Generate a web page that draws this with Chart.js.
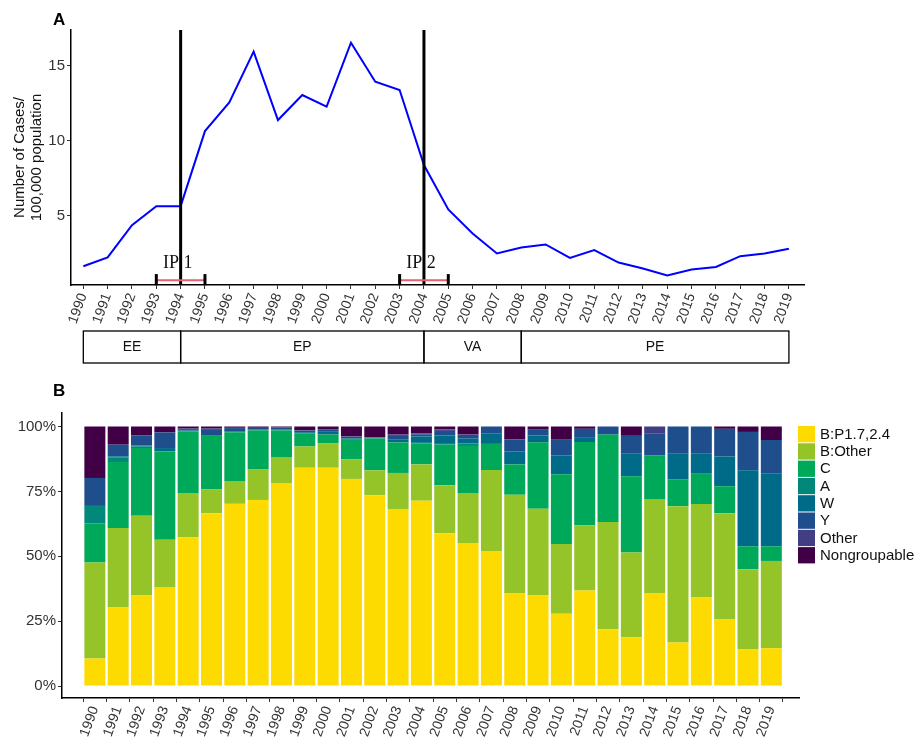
<!DOCTYPE html>
<html lang="en">
<head>
<meta charset="UTF-8">
<title>Casos y serogrupos 1990-2019</title>
<script src="https://cdn.jsdelivr.net/npm/chart.js@4.4.0/dist/chart.umd.min.js"></script>
<style>
    body { margin: 0; background: #fff; }
    #wrap { position: relative; width: 920px; height: 741px; }
    #graficaA { position: absolute; left: 0; top: 0; }
    #graficaB { position: absolute; left: 0; top: 380px; }
</style>
</head>
<body>
<div id="wrap">
    <canvas id="graficaA" width="920" height="380"></canvas>
    <canvas id="graficaB" width="920" height="361"></canvas>
</div>
<script>
    // Years on both panels
    const years = [1990, 1991, 1992, 1993, 1994, 1995, 1996, 1997, 1998, 1999,
        2000, 2001, 2002, 2003, 2004, 2005, 2006, 2007, 2008, 2009,
        2010, 2011, 2012, 2013, 2014, 2015, 2016, 2017, 2018, 2019];

    // Panel A: cases per 100,000
    const cases = [1.6, 2.2, 4.35, 5.62, 5.62, 10.64, 12.56, 15.95, 11.38, 13.05,
        12.27, 16.55, 13.94, 13.39, 8.37, 5.4, 3.8, 2.46, 2.86, 3.06,
        2.16, 2.68, 1.85, 1.45, 0.98, 1.38, 1.56, 2.28, 2.46, 2.77];
    const yTicksA = [5, 10, 15];

    // Interventions and their intervals
    const interventions = ['IP 1', 'IP 2'];
    const interventionYears = [1994, 2004];
    const intervalLow = [1993, 2003];
    const intervalHigh = [1995, 2005];

    // Periods shown under the axis
    const periodLabels = ['EE', 'EP', 'VA', 'PE'];
    const periodBreaks = [1990, 1994, 2004, 2008, 2019];

    // Panel B: share of each serogroup (%)
    const groups = ['B:P1.7,2.4', 'B:Other', 'C', 'A', 'W', 'Y', 'Other', 'Nongroupable'];
    const groupColors = ['#fddb00', '#95c428', '#00a859', '#01887a', '#006b88', '#1f4e8c', '#433d84', '#410046'];
    const bP = [10.6, 30.3, 34.9, 38.2, 57.3, 66.6, 70.2, 71.7, 78.0, 84.1,
        84.1, 79.8, 73.5, 68.2, 71.4, 58.9, 55.1, 52.0, 35.7, 34.9,
        27.9, 36.8, 21.9, 18.8, 35.9, 16.8, 34.1, 25.6, 14.1, 14.6];
    const bOther = [37.0, 30.6, 30.7, 18.2, 17.1, 9.1, 8.8, 11.9, 10.0, 8.2,
        9.5, 7.5, 9.6, 13.9, 14.0, 18.4, 19.3, 31.2, 38.0, 33.4,
        26.8, 25.2, 41.3, 32.7, 36.2, 52.5, 36.0, 41.0, 30.9, 33.6];
    const serC = [15.1, 25.4, 26.1, 34.1, 23.8, 20.7, 18.8, 14.9, 10.5, 5.1,
        3.3, 7.6, 12.3, 11.8, 8.0, 15.7, 18.1, 10.1, 11.7, 25.6,
        26.9, 32.0, 33.7, 29.3, 16.8, 10.4, 11.7, 10.4, 8.8, 5.6];
    const serA = [6.7, 1.7, 0.6, 0, 0, 0, 0, 0, 0, 0,
        0, 0, 0, 0, 0.3, 0.3, 1.0, 0, 0, 0,
        0, 0, 0, 0, 0, 0, 0, 0, 0, 0];
    const serW = [0, 0.5, 0.4, 1.2, 0.3, 0.3, 0.2, 0.3, 0.3, 0.4,
        1.3, 0.5, 0.3, 1.2, 2.5, 3.3, 1.8, 4.1, 4.9, 2.6,
        7.3, 1.9, 0, 8.7, 0, 9.8, 7.7, 11.5, 29.3, 28.0];
    const serY = [10.8, 4.5, 3.8, 6.0, 0.5, 2.3, 1.4, 1.0, 0.9, 0.6,
        0.5, 0.6, 0.2, 1.6, 0.8, 1.7, 1.5, 2.6, 4.7, 2.5,
        6.0, 3.2, 3.1, 6.9, 8.3, 10.5, 10.5, 10.6, 14.8, 13.0];
    const serOther = [0, 0, 0, 0, 0.2, 0.2, 0.1, 0, 0, 0.1,
        0.1, 0.2, 0, 0.2, 0.3, 0.6, 0.1, 0, 0, 0,
        0, 0, 0, 0, 2.8, 0, 0, 0, 0, 0];
    const nonGroup = [19.8, 7.0, 3.5, 2.3, 0.8, 0.8, 0.5, 0.2, 0.3, 1.5,
        1.2, 3.8, 4.1, 3.1, 2.7, 1.1, 3.1, 0, 5.0, 1.0,
        5.1, 0.9, 0, 3.6, 0, 0, 0, 0.9, 2.1, 5.2];
    const yTicksB = [0, 25, 50, 75, 100];

    const FONT = '"Liberation Sans", Arial, sans-serif';
    Chart.defaults.font.family = FONT;
    Chart.defaults.animation = false;

    // Panel A: lines, intervals, labels and period boxes
    const marcasA = {
        id: 'marcasA',
        afterDatasetsDraw(chart) {
            const { ctx, chartArea, scales: { x, y } } = chart;
            ctx.save();
            interventionYears.forEach((yr, i) => {
                const px = x.getPixelForValue(yr);
                ctx.strokeStyle = '#000';
                ctx.lineWidth = 3;
                ctx.beginPath();
                ctx.moveTo(px, chartArea.top);
                ctx.lineTo(px, chartArea.bottom);
                ctx.stroke();

                const x1 = x.getPixelForValue(intervalLow[i]);
                const x2 = x.getPixelForValue(intervalHigh[i]);
                const yb = y.getPixelForValue(0.67);
                ctx.strokeStyle = '#e5606e';
                ctx.lineWidth = 2;
                ctx.beginPath();
                ctx.moveTo(x1, yb);
                ctx.lineTo(x2, yb);
                ctx.stroke();

                ctx.strokeStyle = '#000';
                ctx.lineWidth = 3;
                [x1, x2].forEach(cx => {
                    ctx.beginPath();
                    ctx.moveTo(cx, y.getPixelForValue(1.08));
                    ctx.lineTo(cx, y.getPixelForValue(0.33));
                    ctx.stroke();
                });

                ctx.fillStyle = '#111';
                ctx.font = '18px "Liberation Serif", "DejaVu Serif", serif';
                ctx.textAlign = 'center';
                ctx.textBaseline = 'alphabetic';
                ctx.fillText(interventions[i], px - 3, y.getPixelForValue(1.5));
            });
            ctx.restore();
        },
        afterDraw(chart) {
            const { ctx, scales: { x } } = chart;
            ctx.save();
            const top = 331, bottom = 363;
            ctx.strokeStyle = '#000';
            ctx.lineWidth = 1.3;
            ctx.font = '14px ' + FONT;
            ctx.fillStyle = '#111';
            ctx.textAlign = 'center';
            ctx.textBaseline = 'middle';
            periodLabels.forEach((lab, i) => {
                const a = x.getPixelForValue(periodBreaks[i]);
                const b = x.getPixelForValue(periodBreaks[i + 1]);
                ctx.strokeRect(a, top, b - a, bottom - top);
                ctx.fillText(lab, (a + b) / 2, (top + bottom) / 2);
            });
            ctx.font = 'bold 17px ' + FONT;
            ctx.fillStyle = '#000';
            ctx.textAlign = 'left';
            ctx.textBaseline = 'alphabetic';
            ctx.fillText('A', 53, 25);
            ctx.restore();
        }
    };

    const ejeX = (min, max, height) => ({
        type: 'linear',
        min: min,
        max: max,
        afterBuildTicks: axis => { axis.ticks = years.map(v => ({ value: v })); },
        afterFit: scale => { scale.height = height; },
        ticks: {
            autoSkip: false,
            minRotation: 70,
            maxRotation: 70,
            padding: 2,
            color: '#333',
            font: { size: 14 },
            callback: v => String(v)
        },
        grid: { drawOnChartArea: false, drawTicks: true, tickLength: 4, color: '#333' },
        border: { display: true, color: '#000', width: 1.5 }
    });

    new Chart(document.querySelector('#graficaA'), {
        type: 'line',
        data: {
            datasets: [{
                data: years.map((yr, i) => ({ x: yr, y: cases[i] })),
                borderColor: '#0000ff',
                borderWidth: 2,
                pointRadius: 0,
                tension: 0
            }]
        },
        options: {
            responsive: false,
            devicePixelRatio: 1,
            layout: { padding: { top: 30, right: 116, left: 0, bottom: 0 } },
            plugins: { legend: { display: false }, tooltip: { enabled: false } },
            scales: {
                x: ejeX(1989.494, 2019.62, 95),
                y: {
                    min: 0.35,
                    max: 17.4,
                    afterBuildTicks: axis => { axis.ticks = yTicksA.map(v => ({ value: v })); },
                    afterFit: scale => { scale.width = 71; },
                    ticks: { color: '#333', font: { size: 15 }, padding: 2 },
                    grid: { drawOnChartArea: false, drawTicks: true, tickLength: 4, color: '#333' },
                    border: { display: true, color: '#000', width: 1.5 },
                    title: {
                        display: true,
                        text: ['Number of Cases/', '100,000 population'],
                        color: '#111',
                        font: { size: 15, lineHeight: 1.17 },
                        padding: { top: 11, bottom: 0 }
                    }
                }
            }
        },
        plugins: [marcasA]
    });

    // Panel B: legend and label
    const leyendaB = {
        id: 'leyendaB',
        afterDraw(chart) {
            const { ctx } = chart;
            ctx.save();
            const lx = 798, ly = 46, step = 17.3;
            ctx.font = '15px ' + FONT;
            ctx.textAlign = 'left';
            ctx.textBaseline = 'middle';
            chart.data.datasets.forEach((ds, i) => {
                ctx.fillStyle = ds.backgroundColor;
                ctx.fillRect(lx, ly + i * step, 17, step - 1);
                ctx.fillStyle = '#111';
                ctx.fillText(ds.label, lx + 22, ly + i * step + step / 2);
            });
            ctx.font = 'bold 17px ' + FONT;
            ctx.fillStyle = '#000';
            ctx.textBaseline = 'alphabetic';
            ctx.fillText('B', 53, 16);
            ctx.restore();
        }
    };

    const series = [bP, bOther, serC, serA, serW, serY, serOther, nonGroup];

    new Chart(document.querySelector('#graficaB'), {
        type: 'bar',
        data: {
            datasets: groups.map((g, k) => ({
                label: g,
                data: years.map((yr, i) => ({ x: yr, y: series[k][i] })),
                backgroundColor: groupColors[k],
                borderWidth: 0,
                barPercentage: 0.9,
                categoryPercentage: 1
            }))
        },
        options: {
            responsive: false,
            devicePixelRatio: 1,
            layout: { padding: { top: 33, right: 121, left: 0, bottom: 0 } },
            plugins: { legend: { display: false }, tooltip: { enabled: false } },
            scales: {
                x: Object.assign(ejeX(1989.118, 2019.66, 43), { stacked: true }),
                y: {
                    stacked: true,
                    min: -4.6,
                    max: 105.2,
                    afterBuildTicks: axis => { axis.ticks = yTicksB.map(v => ({ value: v })); },
                    afterFit: scale => { scale.width = 62; },
                    ticks: { color: '#333', font: { size: 15 }, padding: 2, callback: v => v + '%' },
                    grid: { drawOnChartArea: false, drawTicks: true, tickLength: 4, color: '#333' },
                    border: { display: true, color: '#000', width: 1.5 }
                }
            }
        },
        plugins: [leyendaB]
    });
</script>
</body>
</html>
